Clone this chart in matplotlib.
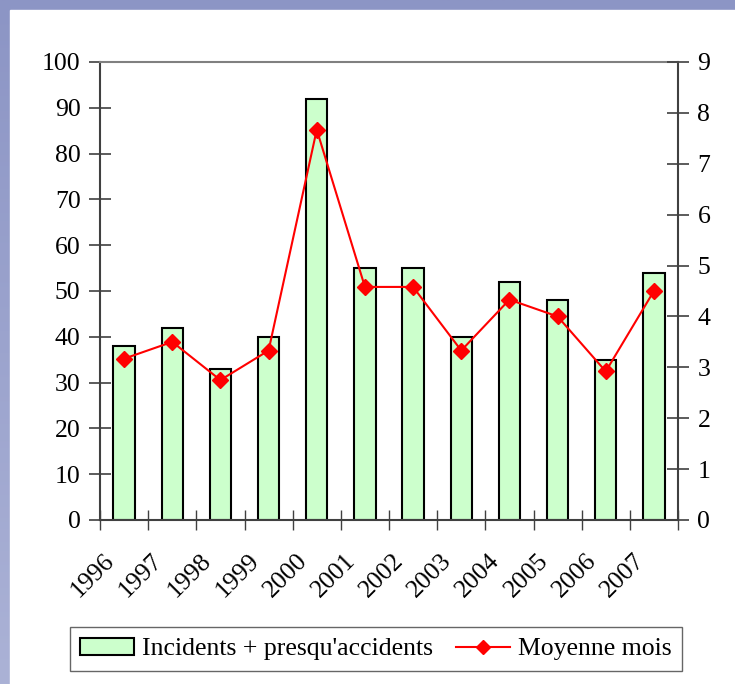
import matplotlib

matplotlib.use("Agg")
import matplotlib.pyplot as plt
import matplotlib.transforms as mtransforms
import numpy as np
from matplotlib.lines import Line2D
from matplotlib.patches import Patch, Rectangle

years = ["1996", "1997", "1998", "1999", "2000", "2001",
         "2002", "2003", "2004", "2005", "2006", "2007"]
incidents = [38, 42, 33, 40, 92, 55, 55, 40, 52, 48, 35, 54]
moyenne_mois = [3.17, 3.5, 2.75, 3.33, 7.67, 4.58, 4.58, 3.33, 4.33, 4.0, 2.92, 4.5]

plt.rcParams.update({
    "font.family": ["Liberation Serif", "DejaVu Serif"],
    "font.size": 18.5,
})

W, H = 735, 684
fig = plt.figure(figsize=(W / 100, H / 100), dpi=100)

# slide-like background: blue strips on left and top, white panel
bg = fig.add_axes([0, 0, 1, 1], zorder=-10)
grad = np.linspace(0, 1, 256).reshape(-1, 1)
bg.imshow(grad, extent=[0, 1, 0, 1], aspect="auto",
          cmap=matplotlib.colors.LinearSegmentedColormap.from_list(
              "bgblue", ["#8c95c5", "#abb2d6"]), origin="upper")
bg.add_patch(Rectangle((10 / W, 0), 1, 1 - 10 / H, color="white"))
bg.set_xlim(0, 1)
bg.set_ylim(0, 1)
bg.axis("off")

ax = fig.add_axes([100 / W, 1 - 520 / H, (678 - 100) / W, (520 - 62) / H])
ax.set_facecolor("none")
x = np.arange(len(years))
ax.bar(x, incidents, width=0.44, color="#ccffcc", edgecolor="black",
       linewidth=1.5, zorder=2)
ax.set_xlim(-0.5, len(years) - 0.5)
ax.set_ylim(0, 100)
ax.set_yticks(range(0, 101, 10))

ax.set_xticks(np.arange(-0.5, len(years), 1))
ax.set_xticklabels([])
ax.tick_params(axis="x", direction="inout", length=15, width=1, color="#404040")
ax.tick_params(axis="y", direction="inout", length=16, width=1.2,
               color="#404040", pad=6)
for s in ["left", "right"]:
    ax.spines[s].set_color("#404040")
    ax.spines[s].set_linewidth(1.5)
ax.spines["bottom"].set_color("#404040")
ax.spines["bottom"].set_linewidth(1.5)
ax.spines["top"].set_color("#808080")
ax.spines["top"].set_linewidth(1.5)

offset = mtransforms.ScaledTranslation(-13 / 100, -37 / 100, fig.dpi_scale_trans)
for i, yr in enumerate(years):
    ax.text(i, 0, yr, rotation=45, ha="right", va="center",
            rotation_mode="anchor",
            transform=ax.get_xaxis_transform() + offset)

ax2 = ax.twinx()
ax2.plot(x, moyenne_mois, color="red", linewidth=1.5, marker="D",
         markersize=8, zorder=3)
ax2.set_ylim(0, 9)
ax2.set_yticks(range(0, 10))
ax2.tick_params(axis="y", direction="inout", length=16, width=1.2,
                color="#404040", pad=6)
for s in ax2.spines.values():
    s.set_visible(False)

handles = [
    Patch(facecolor="#ccffcc", edgecolor="black", linewidth=1.5),
    Line2D([], [], color="red", linewidth=1.5, marker="D", markersize=7),
]
fig.legend(handles, ["Incidents + presqu'accidents", "Moyenne mois"],
           loc="center", bbox_to_anchor=(376 / W, 1 - 649 / H), ncol=2,
           frameon=True, fancybox=False, edgecolor="#404040",
           handlelength=2.1, handletextpad=0.3, columnspacing=0.9,
           borderpad=0.4, fontsize=18.5)

fig.savefig("out.png", dpi=100, facecolor="white")
